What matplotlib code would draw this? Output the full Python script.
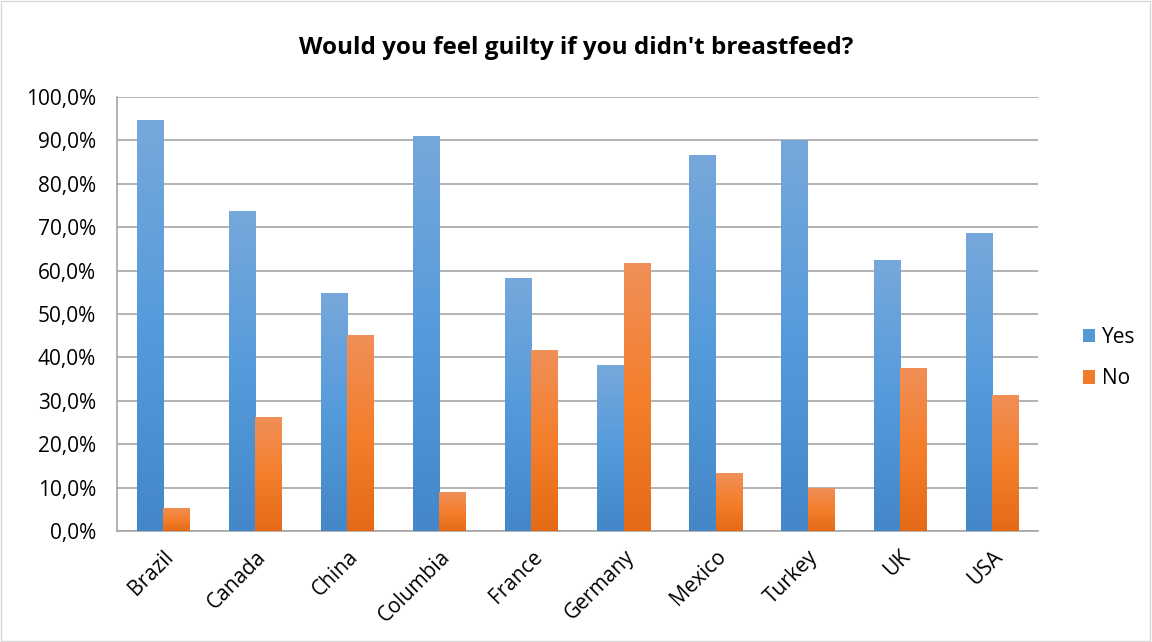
import matplotlib.pyplot as plt
import numpy as np
from matplotlib.patches import Rectangle
from matplotlib.colors import LinearSegmentedColormap
from matplotlib.ticker import FuncFormatter

plt.rcParams['font.family'] = ['Open Sans', 'DejaVu Sans']

countries = ["Brazil", "Canada", "China", "Columbia", "France",
             "Germany", "Mexico", "Turkey", "UK", "USA"]
yes = [94.6, 73.8, 54.8, 91.1, 58.3, 38.3, 86.7, 90.0, 62.4, 68.6]
no = [5.4, 26.2, 45.2, 8.9, 41.7, 61.7, 13.3, 10.0, 37.6, 31.4]

BLUE = "#5598D6"
ORANGE = "#EF7B2B"
# excel-ish gradient: light top, bright middle, dark bottom
blue_cmap = LinearSegmentedColormap.from_list("b", ["#4387C8", "#559BDB", "#77A8DC"])
orange_cmap = LinearSegmentedColormap.from_list("o", ["#E46A17", "#F47F2C", "#F08F58"])

fig = plt.figure(figsize=(11.52, 6.42), dpi=100)
ax = fig.add_axes([117/1152, 1 - 531/642, (1038-117)/1152, (531-97)/642])

x = np.arange(len(countries))
w = 0.286
b1 = ax.bar(x - w/2, yes, w, color=BLUE, label="Yes", zorder=3)
b2 = ax.bar(x + w/2, no, w, color=ORANGE, label="No", zorder=3)

grad = np.linspace(0, 1, 256).reshape(-1, 1)
for bars, cmap in [(b1, blue_cmap), (b2, orange_cmap)]:
    for p in bars:
        bx, by = p.get_x(), p.get_y()
        bw, bh = p.get_width(), p.get_height()
        im = ax.imshow(grad, extent=[bx, bx + bw, by, by + bh], origin="lower",
                       aspect="auto", cmap=cmap, zorder=3.5, interpolation="bilinear")
        im.set_clip_path(p)

ax.set_xlim(-0.5, len(countries) - 0.5)
ax.set_ylim(0, 100)
ax.set_yticks(np.arange(0, 101, 10))
ax.yaxis.set_major_formatter(FuncFormatter(lambda v, p: f"{v:.1f}%".replace(".", ",")))
ax.grid(axis="y", color="#A6A6A6", linewidth=1.2, zorder=0)
ax.set_xticks(x)
ax.set_xticklabels(countries, rotation=45, ha="right", rotation_mode="anchor")
ax.tick_params(length=0, labelsize=15, colors="black")
ax.tick_params(axis="x", pad=11)
ax.tick_params(axis="y", pad=15)
for s in ["top", "right"]:
    ax.spines[s].set_visible(False)
for s in ["left", "bottom"]:
    ax.spines[s].set_color("#A6A6A6")
    ax.spines[s].set_linewidth(1.2)

fig.text(0.5, 1 - 48/642, "Would you feel guilty if you didn't breastfeed?",
         ha="center", va="center", fontsize=17.5, fontweight="bold")

fig.legend(loc="center left", bbox_to_anchor=(1064/1152, 1 - 358/642),
           frameon=False, fontsize=15, handlelength=0.6, handleheight=0.6,
           labelspacing=1.0, handletextpad=0.3)

fig.patches.append(Rectangle((0.001, 0.002), 0.997, 0.996, transform=fig.transFigure,
                             fill=False, edgecolor="#D9D9D9", linewidth=1))

fig.savefig("out.png", dpi=100)
